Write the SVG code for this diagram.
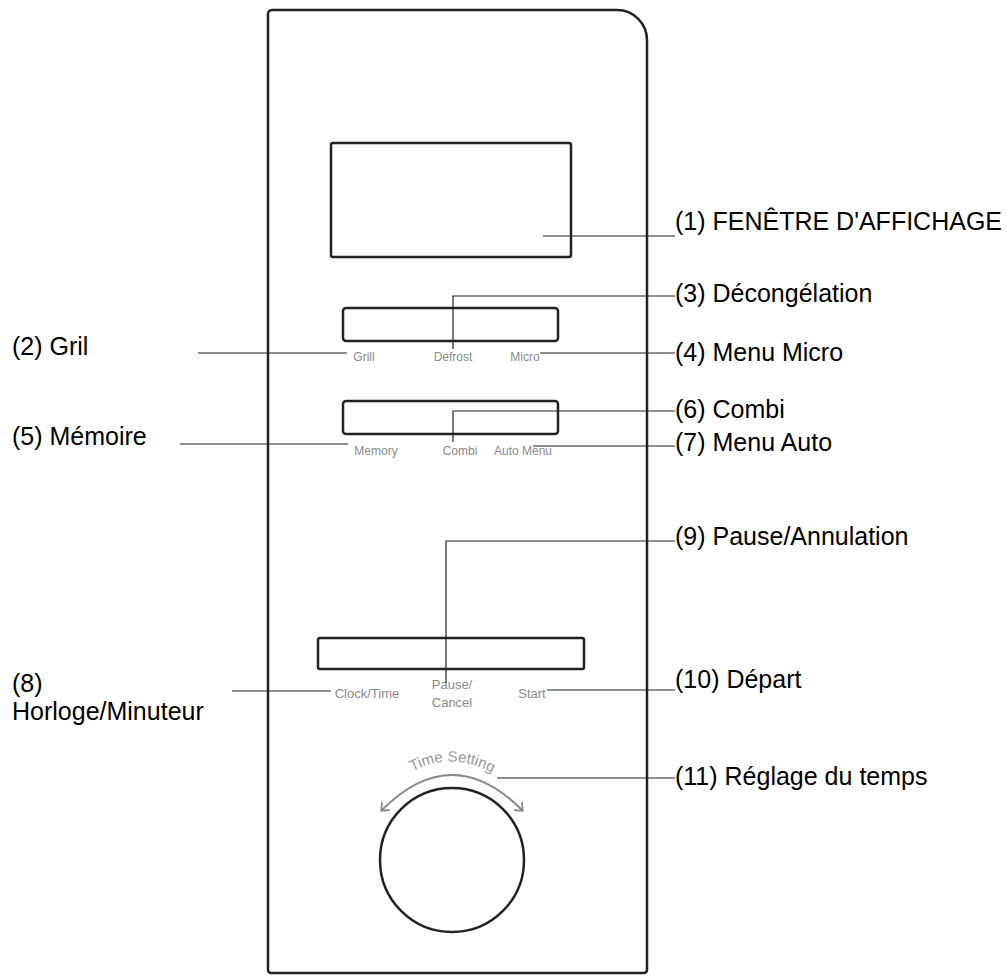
<svg xmlns="http://www.w3.org/2000/svg" width="1007" height="978" viewBox="0 0 1007 978">
<style>
.lbl{font-family:"Liberation Sans",Arial,sans-serif;font-size:25px;fill:#000}
.btn{font-family:"Liberation Sans",Arial,sans-serif;font-size:12px;fill:#8a8a8a}
.btn3{font-family:"Liberation Sans",Arial,sans-serif;font-size:13px;fill:#8a8a8a}
.ld{fill:none;stroke:#222;stroke-width:1.2}
.box{fill:#fff;stroke:#222;stroke-width:2.5}
</style>
<defs><marker id="ah" markerWidth="12" markerHeight="12" refX="6" refY="6" orient="auto-start-reverse" markerUnits="userSpaceOnUse"><path d="M0,0 L7,6 L0,12" fill="none" stroke="#888" stroke-width="1.8"/></marker></defs>
<g id="panel"><path class="box" d="M272,10 H617 A30,30 0 0 1 647,40 V970 A3,3 0 0 1 644,973 H271 A3,3 0 0 1 268,970 V14 A4,4 0 0 1 272,10 Z"/></g>
<g id="display"><rect class="box" x="331" y="143" width="240" height="114" rx="2"/></g>
<g id="row1"><rect class="box" x="343" y="308" width="215" height="33" rx="3"/>
<text class="btn" x="364" y="361" text-anchor="middle">Grill</text>
<text class="btn" x="453" y="361" text-anchor="middle">Defrost</text>
<text class="btn" x="525" y="361" text-anchor="middle">Micro</text></g>
<g id="row2"><rect class="box" x="343" y="401" width="215" height="33" rx="3"/>
<text class="btn" x="376" y="455" text-anchor="middle">Memory</text>
<text class="btn" x="460" y="455" text-anchor="middle">Combi</text>
<text class="btn" x="523" y="455" text-anchor="middle">Auto Menu</text></g>
<g id="row3"><rect class="box" x="318" y="638" width="266" height="31" rx="2"/>
<text class="btn3" x="367" y="698" text-anchor="middle">Clock/Time</text>
<text class="btn3" x="452" y="689" text-anchor="middle">Pause/</text>
<text class="btn3" x="452" y="707" text-anchor="middle">Cancel</text>
<text class="btn3" x="532" y="698" text-anchor="middle">Start</text></g>
<g id="knob"><circle cx="452" cy="860" r="72" fill="#fff" stroke="#222" stroke-width="2.5"/>
<path d="M382,810 Q452,740 522,810" fill="none" stroke="#888" stroke-width="2" marker-start="url(#ah)" marker-end="url(#ah)"/>
<path id="tp" d="M390,786 Q452,736 514,788" fill="none"/>
<text class="btn" style="font-size:15px;fill:#999"><textPath href="#tp" startOffset="50%" text-anchor="middle">Time Setting</textPath></text></g>
<g id="connectors">
<path class="ld" d="M543,236 H675"/>
<path class="ld" d="M453,349 V296 H675"/>
<path class="ld" d="M540,353 H675"/>
<path class="ld" d="M198,353 H347"/>
<path class="ld" d="M453,442 V411 H675"/>
<path class="ld" d="M533,446 H675"/>
<path class="ld" d="M180,444 H348"/>
<path class="ld" d="M446,683 V541 H675"/>
<path class="ld" d="M547,690 H675"/>
<path class="ld" d="M232,691 H331"/>
<path class="ld" d="M497,778 H675"/>
</g>
<g id="labels">
<text class="lbl" x="675" y="230">(1) FENÊTRE D'AFFICHAGE</text>
<text class="lbl" x="675" y="302">(3) Décongélation</text>
<text class="lbl" x="675" y="361">(4) Menu Micro</text>
<text class="lbl" x="12" y="355">(2) Gril</text>
<text class="lbl" x="675" y="418">(6) Combi</text>
<text class="lbl" x="675" y="451">(7) Menu Auto</text>
<text class="lbl" x="12" y="445">(5) Mémoire</text>
<text class="lbl" x="675" y="545">(9) Pause/Annulation</text>
<text class="lbl" x="675" y="688">(10) Départ</text>
<text class="lbl" x="12" y="692">(8)</text>
<text class="lbl" x="12" y="720">Horloge/Minuteur</text>
<text class="lbl" x="675" y="785">(11) Réglage du temps</text>
</g>
</svg>
